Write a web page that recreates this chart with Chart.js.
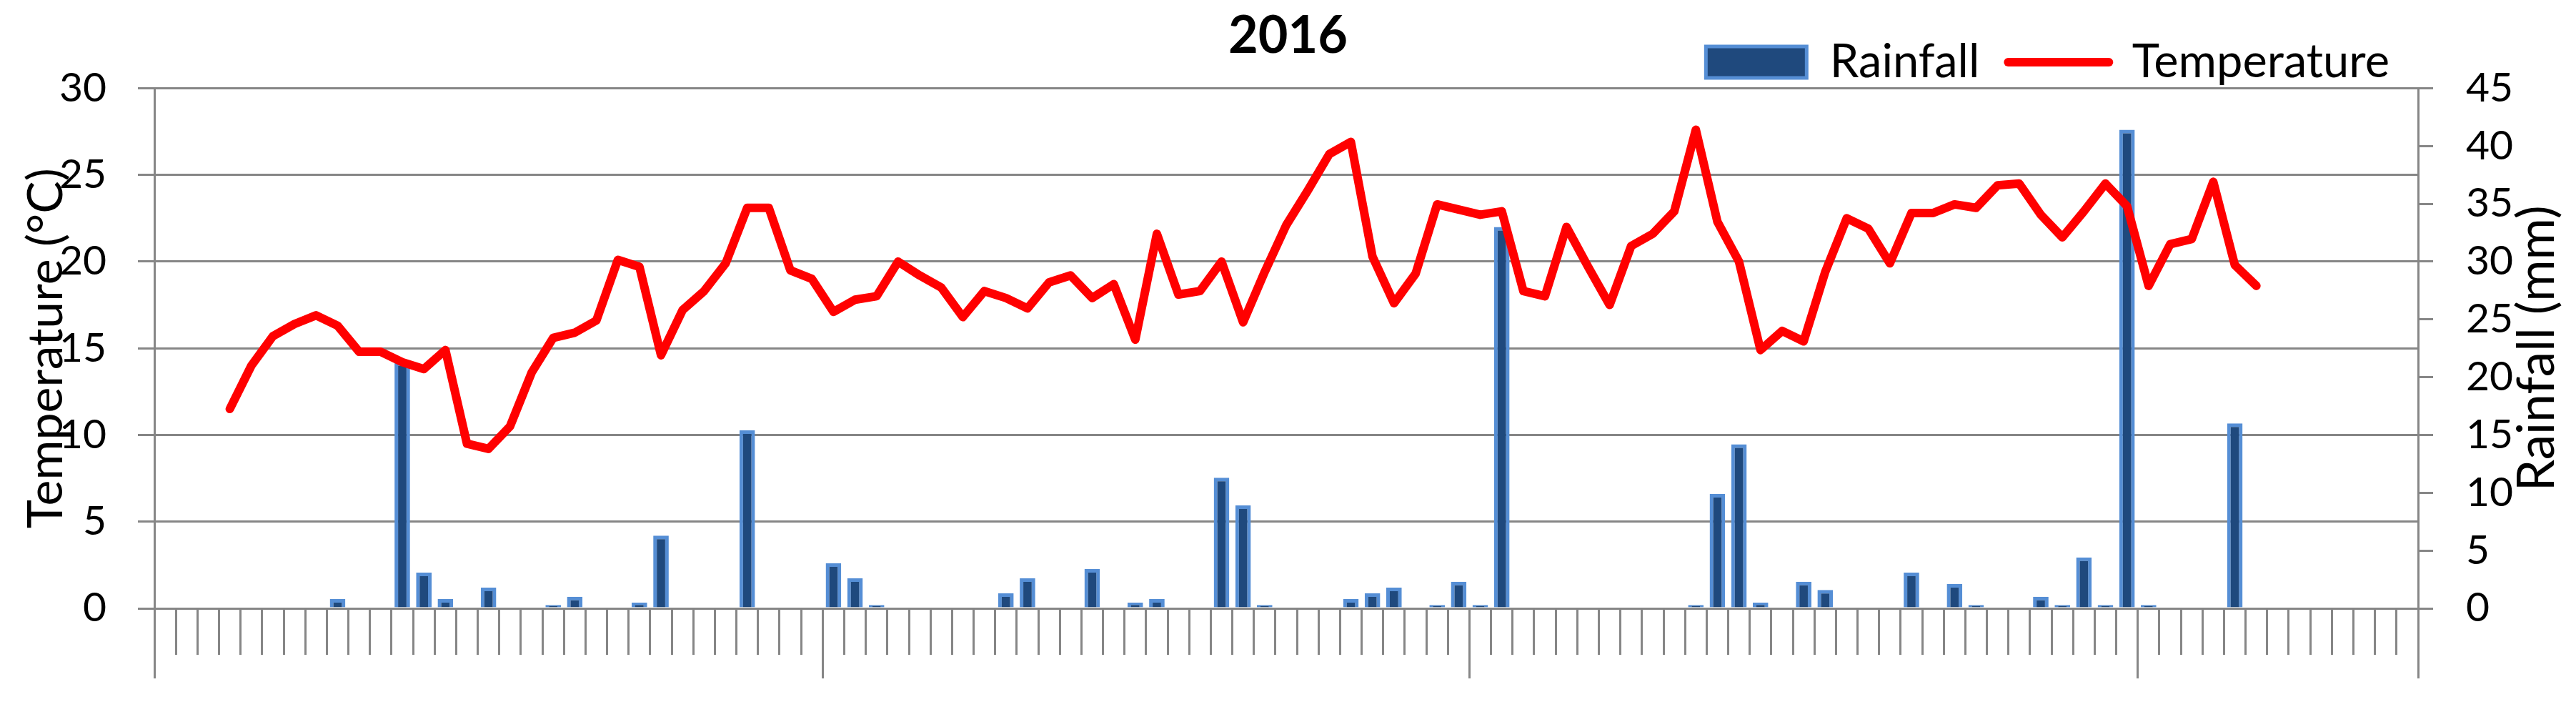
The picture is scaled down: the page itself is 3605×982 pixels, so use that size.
<!DOCTYPE html>
<html>
<head>
<meta charset="utf-8">
<title>2016</title>
<script src="https://cdn.jsdelivr.net/npm/chart.js@4.4.0/dist/chart.umd.min.js"></script>
<style>
  html, body { margin: 0; padding: 0; background: #fff; }
  #wrap { width: 3605px; height: 982px; }
</style>
</head>
<body>
<div id="wrap"><canvas id="climateChart" width="3605" height="982"></canvas></div>
<script>
// daily mean temperature (°C), null where nothing was recorded
const temperature = [
  null, null, null, 11.5, 14.0, 15.7, 16.4, 16.9, 16.3, 14.8,
  14.8, 14.2, 13.8, 14.9, 9.5, 9.2, 10.5, 13.6, 15.6, 15.9,
  16.6, 20.1, 19.7, 14.6, 17.2, 18.3, 19.9, 23.1, 23.1, 19.5,
  19.0, 17.1, 17.8, 18.0, 20.0, 19.2, 18.5, 16.8, 18.3, 17.9,
  17.3, 18.8, 19.2, 17.9, 18.7, 15.5, 21.6, 18.1, 18.3, 20.0,
  16.5, 19.4, 22.1, 24.1, 26.2, 26.9, 20.3, 17.6, 19.3, 23.3,
  23.0, 22.7, 22.9, 18.3, 18.0, 22.0, 19.7, 17.5, 20.9, 21.6,
  22.9, 27.6, 22.3, 20.0, 14.9, 16.0, 15.4, 19.4, 22.5, 21.9,
  19.9, 22.8, 22.8, 23.3, 23.1, 24.4, 24.5, 22.7, 21.4, 22.9,
  24.5, 23.2, 18.6, 21.0, 21.3, 24.6, 19.8, 18.6, null, null,
  null, null, null, null, null
];

// daily rainfall (mm)
const rainfall = [
  null, null, null, null, null, null, null, null, 0.8, null,
  null, 21.3, 3.1, 0.8, null, 1.8, null, null, 0.3, 1.0,
  null, null, 0.5, 6.3, null, null, null, 15.4, null, null,
  null, 3.9, 2.6, 0.3, null, null, null, null, null, 1.3,
  2.6, null, null, 3.4, null, 0.5, 0.8, null, null, 11.3,
  8.9, 0.3, null, null, null, 0.8, 1.3, 1.8, null, 0.3,
  2.3, 0.3, 33.0, null, null, null, null, null, null, null,
  null, 0.3, 9.9, 14.2, 0.5, null, 2.3, 1.6, null, null,
  null, 3.1, null, 2.1, 0.3, null, null, 1.0, 0.3, 4.4,
  0.3, 41.4, 0.3, null, null, null, 16.0, null, null, null,
  null, null, null, null, null
];

// one category per day, no visible labels
const days = temperature.map(() => '');

// day indexes where a new month starts (long tick marks)
const monthStarts = [0, 31, 61, 92, 105];

const tempTicks = [0, 5, 10, 15, 20, 25, 30];
const rainTicks = [0, 5, 10, 15, 20, 25, 30, 35, 40, 45];

const rainTitle = 'Rainfall (mm)';
const axisGrey = '#868686';
const font = 'Lato';

// longer tick marks under the x axis at month boundaries
const monthTicks = {
  id: 'monthTicks',
  afterDraw(chart) {
    const xs = chart.scales.x;
    const { ctx, chartArea } = chart;
    const step = xs.getPixelForValue(1) - xs.getPixelForValue(0);
    ctx.save();
    ctx.strokeStyle = axisGrey;
    ctx.lineWidth = 3;
    monthStarts.forEach(i => {
      const px = Math.round(xs.getPixelForValue(i) - step / 2 - 1.5) + 1.5;
      ctx.beginPath();
      ctx.moveTo(px, chartArea.bottom);
      ctx.lineTo(px, chartArea.bottom + 98);
      ctx.stroke();
    });
    ctx.restore();
  }
};

// right axis title reads bottom-to-top like the left one
const rightTitle = {
  id: 'rightTitle',
  afterDraw(chart) {
    const s = chart.scales.y1;
    const c = chart.ctx;
    c.save();
    c.translate(s.right - 54, (s.top + s.bottom) / 2);
    c.rotate(-Math.PI / 2);
    c.font = '71px ' + font;
    c.fillStyle = '#000';
    c.textAlign = 'center';
    c.textBaseline = 'middle';
    c.fillText(rainTitle, 0, 0);
    c.restore();
  }
};

const ctx = document.getElementById('climateChart').getContext('2d');

new Chart(ctx, {
  type: 'bar',
  data: {
    labels: days,
    datasets: [
      {
        type: 'bar',
        label: 'Rainfall',
        data: rainfall,
        yAxisID: 'y1',
        backgroundColor: '#1F497D',
        borderColor: '#558ED5',
        borderWidth: 5,
        barPercentage: 0.72,
        categoryPercentage: 1,
        order: 1
      },
      {
        type: 'line',
        label: 'Temperature',
        data: temperature,
        yAxisID: 'y',
        borderColor: '#FF0000',
        borderWidth: 12,
        borderJoinStyle: 'round',
        borderCapStyle: 'round',
        pointRadius: 0,
        tension: 0,
        spanGaps: false,
        order: 0
      }
    ]
  },
  options: {
    responsive: false,
    animation: false,
    devicePixelRatio: 1,
    layout: { padding: 0 },
    plugins: {
      title: {
        display: true,
        text: '2016',
        color: '#000',
        font: { family: font, size: 72, weight: 'bold', lineHeight: 1.2 },
        padding: { top: 8, bottom: -80 }
      },
      legend: {
        display: true,
        position: 'top',
        align: 'end',
        fullSize: false,
        maxHeight: 109,
        labels: {
          usePointStyle: true,
          pointStyleWidth: 141,
          boxHeight: 44,
          padding: 40,
          color: '#000',
          font: { family: font, size: 65 },
          generateLabels: () => [
            { text: 'Rainfall', datasetIndex: 0, pointStyle: 'rect', fillStyle: '#1F497D',
              strokeStyle: '#558ED5', lineWidth: 5, hidden: false },
            { text: 'Temperature', datasetIndex: 1, pointStyle: 'line', fillStyle: '#FF0000',
              strokeStyle: '#FF0000', lineWidth: 12, lineCap: 'round', hidden: false }
          ]
        }
      },
      tooltip: { enabled: false }
    },
    scales: {
      x: {
        type: 'category',
        offset: true,
        grid: { display: true, drawOnChartArea: false, drawTicks: true, tickLength: 65,
                color: axisGrey, lineWidth: 3, offset: true },
        border: { display: true, color: axisGrey, width: 3 },
        ticks: { display: false, autoSkip: false },
        afterFit: s => { s.height = 131; }
      },
      y: {
        position: 'left',
        min: 0,
        max: 30,
        afterBuildTicks: s => { s.ticks = tempTicks.map(v => ({ value: v })); },
        grid: { color: axisGrey, lineWidth: 3, tickLength: 23, drawTicks: true },
        border: { display: true, color: axisGrey, width: 3 },
        ticks: { color: '#000', padding: 44, font: { family: font, size: 57 } },
        title: {
          display: true,
          text: 'Temperature (°C)',
          color: '#000',
          font: { family: font, size: 68 },
          padding: { top: 24, bottom: 0 }
        },
        afterFit: s => { s.width = 216; }
      },
      y1: {
        position: 'right',
        min: 0,
        max: 45,
        afterBuildTicks: s => { s.ticks = rainTicks.map(v => ({ value: v })); },
        grid: { drawOnChartArea: false, color: axisGrey, lineWidth: 3, tickLength: 21, drawTicks: true },
        border: { display: true, color: axisGrey, width: 3 },
        ticks: { color: '#000', padding: 46, font: { family: font, size: 57 } },
        title: { display: false },
        afterFit: s => { s.width = 221; }
      }
    }
  },
  plugins: [monthTicks, rightTitle]
});
</script>
</body>
</html>
